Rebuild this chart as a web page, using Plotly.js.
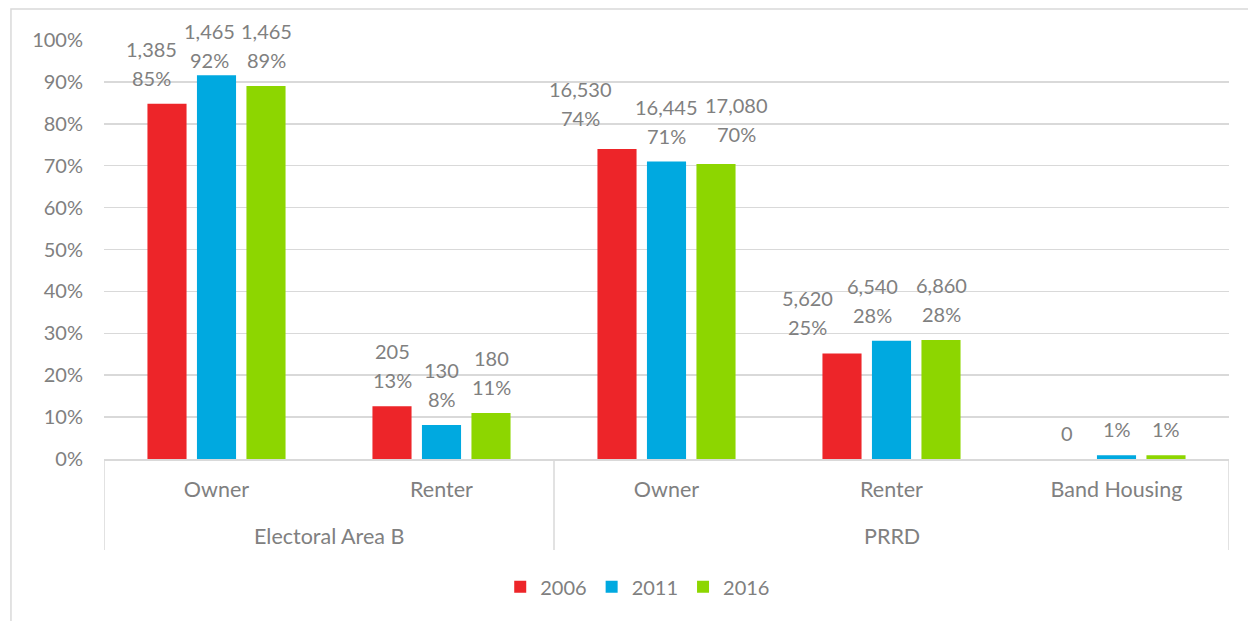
<!DOCTYPE html>
<html>
<head>
<meta charset="utf-8">
<script src="https://cdn.plot.ly/plotly-3.0.1.min.js"></script>
<style>
html,body{margin:0;padding:0;background:#fff;}
#chart{width:1248px;height:621px;}
</style>
</head>
<body>
<div id="chart"></div>
<script>
// ---- data ----
const groups = ["Electoral Area B","Electoral Area B","PRRD","PRRD","PRRD"];
const categories = ["Owner","Renter","Owner","Renter","Band Housing"];
const years = ["2006","2011","2016"];
const share2006 = [0.848, 0.126, 0.740, 0.252, 0.000];
const share2011 = [0.916, 0.081, 0.710, 0.282, 0.009];
const share2016 = [0.890, 0.110, 0.704, 0.284, 0.009];
const count2006 = ["1,385","205","16,530","5,620",""];
const count2011 = ["1,465","130","16,445","6,540",""];
const count2016 = ["1,465","180","17,080","6,860",""];
const pct2006 = ["85%","13%","74%","25%","0"];
const pct2011 = ["92%","8%","71%","28%","1%"];
const pct2016 = ["89%","11%","70%","28%","1%"];

// ---- styles ----
const colors = ["#ED2529","#00A9E0","#8DD600"];
const font = "Lato, 'Open Sans', sans-serif";
const grey = "#808080";
const lineGrey = "#d9d9d9";
const FS = 20, FSX = 21.5;
// label collision nudges (px) as Excel placed them: [dx, dy]
const nudge = [
  [[-16,0],[0,0],[-37,5],[-35,0],[0,0]],
  [[-7,-11],[0,0],[0,0],[-19,0],[0,0]],
  [[0,0],[0,0],[20,4],[0,0],[0,0]]
];

const shares = [share2006, share2011, share2016];
const counts = [count2006, count2011, count2016];
const pcts = [pct2006, pct2011, pct2016];
const xIdx = categories.map((c,i)=>i);

const traces = years.map((yr,i)=>({
  type:"bar",
  name:yr,
  x:xIdx,
  y:shares[i],
  marker:{color:colors[i]},
  hoverinfo:"skip"
}));

// bar slot geometry for label placement
const bargap = 0.34, nT = years.length;
const plotW = 1248-104-19, unitPx = plotW/5;
const slotPx = unitPx*(1-bargap)/nT;

const annotations = [];
years.forEach((yr,i)=>{
  xIdx.forEach((xi,j)=>{
    const dx = (i-(nT-1)/2)*slotPx + nudge[i][j][0];
    const dy = nudge[i][j][1];
    annotations.push({
      x:xi, y:shares[i][j], xref:"x", yref:"y",
      text:pcts[i][j], showarrow:false,
      xshift:dx, yshift:26+dy, yanchor:"middle",
      font:{family:font,size:FS,color:grey}
    });
    if(counts[i][j]) annotations.push({
      x:xi, y:shares[i][j], xref:"x", yref:"y",
      text:counts[i][j], showarrow:false,
      xshift:dx, yshift:55+dy, yanchor:"middle",
      font:{family:font,size:FS,color:grey}
    });
  });
});

// group labels
const groupNames = [...new Set(groups)];
const shapes = [];
groupNames.forEach(g=>{
  const idx = xIdx.filter(i=>groups[i]===g);
  const mid = (idx[0]+idx[idx.length-1])/2;
  annotations.push({
    x:mid, y:-0.1838, xref:"x", yref:"paper",
    text:g, showarrow:false, yanchor:"middle",
    font:{family:font,size:FSX,color:grey}
  });
  shapes.push({type:"line",xref:"x",yref:"paper",x0:idx[0]-0.5,x1:idx[0]-0.5,y0:0,y1:-0.217,
    line:{color:lineGrey,width:1.5}});
});
shapes.push({type:"line",xref:"x",yref:"paper",x0:categories.length-0.5,x1:categories.length-0.5,y0:0,y1:-0.217,
  line:{color:lineGrey,width:1.5}});
// chart-area border
shapes.push({
  type:"rect",xref:"paper",yref:"paper",
  x0:-0.0827,x1:1.5,y0:-1,y1:1.074,
  line:{color:lineGrey,width:1.5},
  fillcolor:"rgba(0,0,0,0)",layer:"below"
});

const layout = {
  width:1248,height:621,
  margin:{l:104,r:19,t:40,b:162},
  paper_bgcolor:"#fff",plot_bgcolor:"#fff",
  barmode:"group",
  bargap:bargap,
  bargroupgap:0.21,
  font:{family:font,color:grey,size:FS},
  xaxis:{
    range:[-0.5,categories.length-0.5],
    tickmode:"array",tickvals:xIdx,ticktext:categories,
    showline:true,linecolor:lineGrey,linewidth:1.5,
    showgrid:false,zeroline:false,
    ticks:"",
    ticklabelstandoff:11,
    tickfont:{family:font,size:FSX,color:grey}
  },
  yaxis:{
    range:[0,1],
    dtick:0.1,
    tickformat:".0%",
    showgrid:true,gridcolor:lineGrey,gridwidth:1.5,
    zeroline:false,
    ticklabelstandoff:20,
    tickfont:{family:font,size:FS,color:grey}
  },
  showlegend:true,
  legend:{
    orientation:"h",
    xref:"container",x:0.511,xanchor:"center",
    yref:"container",y:0.055,yanchor:"middle",
    font:{family:font,size:FS,color:grey},
    itemwidth:30,
    traceorder:"normal"
  },
  annotations:annotations,
  shapes:shapes
};

Plotly.newPlot("chart",traces,layout,{displayModeBar:false,staticPlot:true});
</script>
</body>
</html>
